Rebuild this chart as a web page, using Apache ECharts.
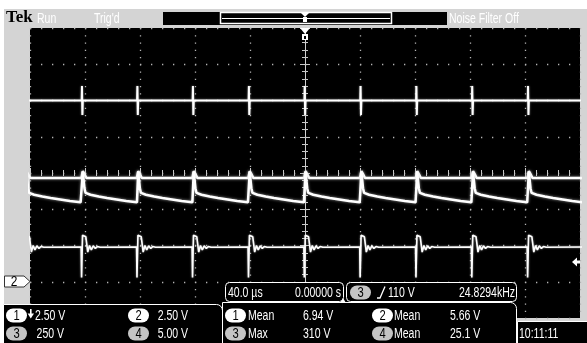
<!DOCTYPE html>
<html>
<head>
<meta charset="utf-8">
<script src="https://cdn.jsdelivr.net/npm/echarts@6/dist/echarts.min.js"></script>
<style>
  html, body { margin: 0; padding: 0; background: #fff; }
  #chart { width: 587px; height: 343px; }
</style>
</head>
<body>
<div id="chart"></div>
<script>
// x: µs from trigger point (40 µs/div), y: divisions from screen centre
const timeRange = [-200, 200];
const divRange = [-4, 4];

// switching edges (period ~40.3 µs, 24.8294 kHz)
const edgeTimes = [-203, -162, -121.7, -81.3, -40.6, 0, 40.6, 81.2, 121.8, 162.4, 203];

// one cycle of each trace: [µs after edge, divisions]
const traceA = [[-0.4, 2.0], [-0.2, 2.4], [0.1, 1.6], [0.4, 2.0]];
const traceBTop = [[-0.6, -0.14], [0.4, 0.05], [1.6, -0.03], [3.0, -0.14]];
const traceBLow = [[0, -0.81], [0.4, 0.03], [1.6, -0.42], [2.4, -0.55], [6, -0.6], [12, -0.65],
  [18, -0.69], [25, -0.73], [32, -0.77], [39.8, -0.81]];
const traceC = [[-0.8, -2.04], [-0.5, -2.88], [0.2, -1.72], [1.5, -1.7], [2.6, -1.76], [4.0, -2.18],
  [5.3, -2.0], [6.6, -2.12], [8, -2.01], [9.5, -2.08], [11, -2.03], [13, -2.05]];

// readouts
const statusText = ['Tek', 'Run', "Trig'd", 'Noise Filter Off'];
const channelScales = ['2.50 V', '2.50 V', '250 V', '5.00 V'];
const measurements = [['1', 'Mean', '6.94 V'], ['2', 'Mean', '5.66 V'], ['3', 'Max', '310 V'], ['4', 'Mean', '25.1 V']];
const timebase = ['40.0 \u00b5s', '0.00000 s'];
const triggerInfo = ['3', '110 V', '24.8294kHz'];
const clockText = '10:11:11';

// scope font is very narrow: squeeze Liberation Sans horizontally
const FONT = '15px "Liberation Sans", Arial, sans-serif';
const SQUEEZE = 0.7;
const GREY = '#d4d4d4';

// repeat the cycle shape at every edge
const cycles = (shape) => edgeTimes.flatMap((t0) => shape.map(([dt, v]) => [t0 + dt, v]));

const trace = (data, width, glow) => ({
  type: 'line',
  data,
  symbol: 'none',
  clip: true,
  silent: true,
  lineStyle: { color: '#fff', width, shadowBlur: glow || 0, shadowColor: 'rgba(210,210,210,0.7)' },
});

const txt = (x, y, text, fill, align, font, sx) => ({
  type: 'text', x, y, z: 100, scaleX: sx || SQUEEZE,
  style: { text, fill, font: font || FONT, align: align || 'left', verticalAlign: 'middle' },
});

const rect = (x, y, w, h, style, r) => ({
  type: 'rect', z: 99, shape: { x, y, width: w, height: h, r: r || 0 }, style,
});

const poly = (points, fill) => ({ type: 'polygon', z: 101, shape: { points }, style: { fill } });

// channel number badge
const pill = (x, y, label) => {
  const white = label === '1' || label === '2';
  return [
    rect(x, y, 21, 14, { fill: white ? '#fff' : '#c4c4c4' }, 7),
    txt(x + 10.5, y + 7.5, label, '#000', 'center', '14px "Liberation Sans", Arial, sans-serif', 0.8),
  ];
};

const graphics = [
  // white margins around the grey bezel
  rect(0, 0, 587, 9, { fill: '#fff' }),
  rect(0, 0, 4, 343, { fill: '#fff' }),

  // status bar
  txt(6, 18, statusText[0], '#000', 'left', 'bold 17px "Liberation Serif", serif', 1),
  txt(37, 19, statusText[1], '#fff'),
  txt(94, 19, statusText[2], '#fff'),
  txt(449, 19, statusText[3], '#fff'),
  rect(163, 12, 284, 13, { fill: '#000' }),
  rect(220.5, 12.5, 171, 11, { fill: '#000', stroke: '#fff', lineWidth: 1.5 }),
  { type: 'line', z: 100, shape: { x1: 222, y1: 18.5, x2: 390, y2: 18.5 }, style: { stroke: '#fff', lineWidth: 1 } },
  poly([[300, 12], [310, 12], [305, 17]], '#fff'),
  rect(303, 17, 4, 5, { fill: '#fff' }),

  // trigger position marker on the graticule
  poly([[300, 28], [310, 28], [305, 34]], '#fff'),
  rect(302, 34, 6, 6, { fill: '#fff' }),
  rect(304, 36, 2, 3, { fill: '#000' }),

  // channel 2 ground marker
  { type: 'polygon', z: 100, shape: { points: [[4.5, 276], [24, 276], [30, 281.5], [24, 287], [4.5, 287]] },
    style: { fill: '#fff', stroke: '#333', lineWidth: 1 } },
  txt(14, 282, '2', '#000', 'center', '14px "Liberation Sans", Arial, sans-serif', 0.85),

  // trigger level arrow
  poly([[572, 262], [577, 257.5], [577, 266.5]], '#fff'),
  rect(576, 260.5, 4, 3, { fill: '#fff' }),

  // timebase / trigger readouts
  rect(225.5, 282.5, 118, 19, { fill: '#000', stroke: '#fff', lineWidth: 1 }, 4),
  txt(228, 292.5, timebase[0], '#fff'),
  txt(341, 292.5, timebase[1], '#fff', 'right'),
  poly([[340, 303], [346, 303], [343, 298]], '#fff'),
  rect(346.5, 282.5, 170, 19, { fill: '#000', stroke: '#fff', lineWidth: 1 }, 4),
  ...pill(350, 285.5, triggerInfo[0]),
  { type: 'polyline', z: 100, shape: { points: [[377, 298], [380, 298], [385, 286.5]] }, style: { stroke: '#fff', lineWidth: 1.3 } },
  txt(388, 292.5, triggerInfo[1], '#fff'),
  txt(515, 292.5, triggerInfo[2], '#fff', 'right'),

  // vertical scale panel
  rect(3.5, 304.5, 219, 45, { fill: '#000', stroke: '#fff', lineWidth: 1 }, [0, 6, 0, 0]),
  ...pill(6, 308.5, '1'),
  rect(30, 309, 1.6, 5, { fill: '#fff' }),
  poly([[27.6, 313.5], [34, 313.5], [30.8, 318.5]], '#fff'),
  txt(35, 315.5, channelScales[0], '#fff'),
  ...pill(128, 308.5, '2'),
  txt(188, 315.5, channelScales[1], '#fff', 'right'),
  ...pill(6, 326.5, '3'),
  txt(64, 333.5, channelScales[2], '#fff', 'right'),
  ...pill(128, 326.5, '4'),
  txt(188, 333.5, channelScales[3], '#fff', 'right'),

  // measurement panel
  rect(222.5, 302.5, 294, 47, { fill: '#000', stroke: '#fff', lineWidth: 1 }, [0, 6, 0, 0]),
  ...pill(225, 308.5, measurements[0][0]),
  txt(248, 315.5, measurements[0][1], '#fff'),
  txt(303, 315.5, measurements[0][2], '#fff'),
  ...pill(372, 308.5, measurements[1][0]),
  txt(394, 315.5, measurements[1][1], '#fff'),
  txt(450, 315.5, measurements[1][2], '#fff'),
  ...pill(225, 326.5, measurements[2][0]),
  txt(248, 333.5, measurements[2][1], '#fff'),
  txt(303, 333.5, measurements[2][2], '#fff'),
  ...pill(372, 326.5, measurements[3][0]),
  txt(394, 333.5, measurements[3][1], '#fff'),
  txt(450, 333.5, measurements[3][2], '#fff'),

  // clock
  rect(517.5, 321.5, 75, 25, { fill: '#000', stroke: '#fff', lineWidth: 1 }),
  txt(519, 333.5, clockText, '#fff'),
];

const tickAxis = (extra) => Object.assign({
  type: 'value',
  axisLabel: { show: false },
  axisLine: { show: false },
  axisTick: { show: true, inside: true, length: 5, lineStyle: { color: '#c8c8c8' } },
  minorTick: { show: true, splitNumber: 5, length: 3, lineStyle: { color: '#c8c8c8' } },
  splitLine: { show: false },
}, extra);

const chart = echarts.init(document.getElementById('chart'));
chart.setOption({
  animation: false,
  backgroundColor: GREY,
  grid: { left: 30, top: 28, width: 550, height: 290, show: true, backgroundColor: '#000', borderWidth: 0 },
  xAxis: [
    tickAxis({
      position: 'bottom', min: timeRange[0], max: timeRange[1], interval: 40,
      splitLine: { show: true, lineStyle: { color: '#b4b4b4', width: 1.3, type: [1.3, 5.95] } },
    }),
    tickAxis({ position: 'top', min: timeRange[0], max: timeRange[1], interval: 40 }),
  ],
  yAxis: [
    tickAxis({
      position: 'left', min: divRange[0], max: divRange[1], interval: 1,
      splitLine: { show: true, lineStyle: { color: '#b4b4b4', width: 1.3, type: [1.3, 9.7] } },
    }),
    tickAxis({
      position: 'right', min: divRange[0], max: divRange[1], interval: 1,
      axisLine: { show: true, lineStyle: { color: '#cfcfcf', width: 1 } },
    }),
  ],
  series: [
    trace(cycles(traceA), 2, 2),
    trace(cycles(traceBTop), 2.5, 3),
    trace(cycles(traceBLow), 2.5, 3),
    trace(cycles(traceC), 1.6, 2),
  ],
  graphic: { elements: graphics },
});
</script>
</body>
</html>
